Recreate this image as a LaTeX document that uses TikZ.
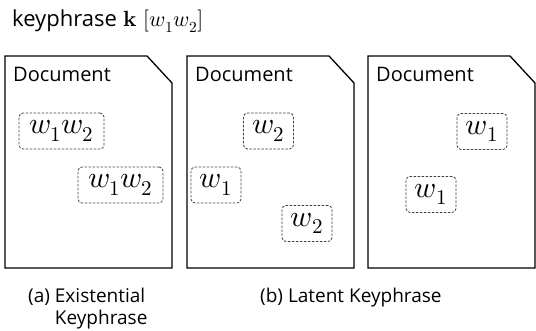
\documentclass[tikz,border=0pt]{standalone}
\usepackage{amsmath}
\usepackage{fontspec}
\usepackage{unicode-math}
\setmainfont{Open Sans}
\setmathfont{Latin Modern Math}
\usepackage{tikz}
\usetikzlibrary{positioning}

\tikzset{
  docline/.style={draw=black, line width=1.3pt, line join=miter},
  docname/.style={anchor=base west, inner sep=0pt, font=\fontsize{20}{22}\selectfont},
  wordbox/.style={draw=black!75, dashed, dash pattern=on 2.5pt off 1.5pt, line width=0.8pt,
    rounded corners=4pt, inner sep=0pt, minimum height=36pt,
    font=\fontsize{30}{32}\selectfont},
  caption/.style={anchor=base west, inner sep=0pt, align=left, font=\fontsize{19}{22}\selectfont}
}

\begin{document}
\begin{tikzpicture}[x=1pt,y=1pt]
    \useasboundingbox (0,0) rectangle (536,331);

    % Title
    \node[anchor=base west, inner sep=0pt, font=\fontsize{22}{24}\selectfont] (title) at (12,304)
        {keyphrase\hspace{7pt}$\symbf{k}\;[w_1w_2]$};

    % Draw the three documents with a cut corner
    \foreach \x/\name in {5/docA, 187/docB, 368/docC} {
        \draw[docline] (\x,63) -- ++(0,212) -- ++(142,0) -- ++(25,-27) -- ++(0,-185) -- cycle;
        \node[docname] (\name) at (\x+8,249) {Document};
    }

    % Existential keyphrase
    \node[wordbox, minimum width=85pt] (a1) at (61.5,200) {$w_1w_2$};
    \node[wordbox, minimum width=85pt] (a2) at (120.5,146) {$w_1w_2$};

    % Latent keyphrase
    \node[wordbox, minimum width=50pt] (b1) at (268.5,200) {$w_2$};
    \node[wordbox, minimum width=50pt] (b2) at (216,146) {$w_1$};
    \node[wordbox, minimum width=50pt] (b3) at (307,107.5) {$w_2$};
    \node[wordbox, minimum width=50pt] (c1) at (482,199.5) {$w_1$};
    \node[wordbox, minimum width=50pt] (c2) at (431,136.5) {$w_1$};

    % Captions (base of the last line)
    \node[caption] (capA) at (28,6) {(a) Existential\\\phantom{(a) }Keyphrase};
    \node[caption] (capB) at (260,28) {(b) Latent Keyphrase};
\end{tikzpicture}
\end{document}
